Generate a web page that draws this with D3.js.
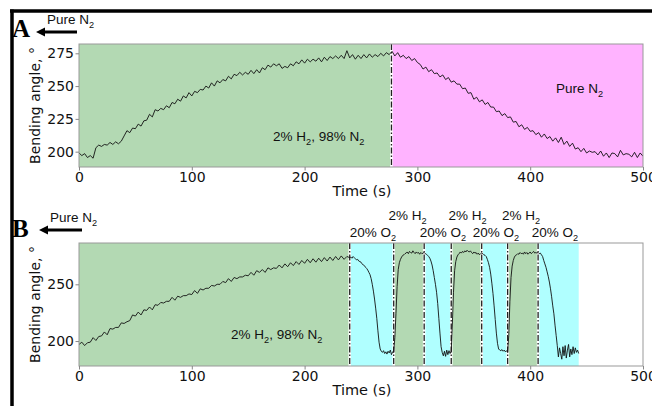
<!DOCTYPE html>
<html><head><meta charset="utf-8">
<script src="https://cdn.jsdelivr.net/npm/d3@7"></script>
<style>
html,body{margin:0;padding:0;background:#fff;}
svg{display:block;}
</style></head>
<body>
<svg id="chart" width="652" height="406"></svg>
<script>
// ---------------- DATA ----------------
const xTicks = [0, 100, 200, 300, 400, 500];
const aYTicks = [200, 225, 250, 275];
const bYTicks = [200, 250];

// Panel A: bending angle sampled every 2.5 s from 0 to 500 s
const aStep = 2.5;
const aAngle = [
  199, 197, 198.5, 195.5, 197, 195, 203, 205, 204, 205.5,
  205, 207, 205.5, 207.5, 206, 208, 212, 216, 214.5, 218,
  217.5, 221, 219.5, 223.5, 224, 228.5, 226.5, 232, 231, 233,
  232, 235, 233.5, 237.5, 236.5, 240, 238.5, 242.5, 241, 245,
  242.5, 246, 245, 247.5, 247, 250, 248.5, 252.5, 250, 254,
  252.5, 255, 254, 257.5, 255.5, 259, 258, 260.5, 258.5, 260.5,
  259, 262, 259.5, 262.5, 260, 264, 262.5, 266, 264.5, 267,
  265.5, 267, 263.5, 265, 264, 267, 265.5, 268.5, 267, 270,
  267.5, 270.5, 268.5, 270.5, 269, 271.5, 268.5, 272, 269.5, 272.5,
  271, 273, 271, 273.5, 271, 277, 271.5, 274, 270.5, 273.5,
  271, 274, 271.5, 274.5, 272, 274, 272.5, 275, 273, 275.5,
  274, 276.5, 273, 275.5, 272, 273.5, 271, 272.5, 269.5, 271,
  268, 266.5, 263, 264.5, 261, 262.5, 259.5, 260, 257, 258.5,
  255, 256.5, 253, 254, 251.5, 251.5, 248, 248.5, 244.5, 245,
  240, 241.5, 238, 239.5, 236, 237.5, 234, 234, 230.5, 231,
  227.5, 229, 226, 226.5, 222.5, 223, 219, 220.5, 217, 218.5,
  215.5, 216, 213, 214.5, 211, 213.5, 210, 211.5, 208, 210.5,
  207, 211, 205.5, 208, 204, 206.5, 202, 203, 200, 202.5,
  199, 200.5, 199.5, 200, 197.5, 200.5, 196.5, 199, 195.5, 199,
  198.5, 196, 201, 197.5, 198.5, 198, 196, 199.5, 195.5, 199,
  196.5
];

// Panel B: slow rise sampled every 2.5 s (0-237.5 s)
const bRiseStep = 2.5;
const bRiseAngle = [
  197, 199, 196, 198.5, 199, 203, 200.5, 204, 204.5, 208,
  205.5, 211, 210.5, 212, 212, 216, 215.5, 217, 218, 223,
  222, 225.5, 223, 227.5, 227, 230, 227.5, 232, 231.5, 234,
  233.5, 235, 235, 238.5, 236, 239.5, 238.5, 240, 240, 241.5,
  241, 244.5, 242, 246, 245, 246.5, 246.5, 249, 248.5, 250,
  250, 252.5, 251.5, 255, 252.5, 256, 255, 256.5, 256.5, 258,
  257.5, 260.5, 258, 262, 260.5, 263, 260.5, 264.5, 263, 264.5,
  264, 267, 264.5, 268, 265.5, 269, 266.5, 270, 267.5, 271,
  268.5, 272, 269, 272.5, 269.5, 273, 270, 273.5, 270.5, 274,
  271, 274.5, 271.5, 275, 272, 274.5
];
// Panel B: switching cycles sampled every 1 s (240-443 s)
const bCycleStart = 240;
const bCycleStep = 1;
const bCycleAngle = [
  273.5, 274, 273, 274.5, 273.5, 272.5, 271.5, 272, 270.5, 270,
  269.5, 268, 267, 266.5, 265, 264, 262.5, 260.5, 258.5, 255,
  250, 244, 237, 229, 220, 209, 199, 193, 191, 190,
  191.5, 189, 190.5, 188.5, 191, 189.5, 192, 188, 190.5, 190,
  203, 224, 248, 263, 269, 272, 274, 275.5, 276, 277,
  277.5, 278.5, 277, 279, 278, 277.5, 279.5, 278, 277, 278.5,
  277.5, 278, 276.5, 278, 277, 277.5, 278, 277, 276.5, 275.5,
  274.5, 273, 270.5, 267, 262, 256, 250, 243, 233, 220,
  207, 195, 190, 187, 191, 186.5, 192, 188, 191.5, 189,
  191, 215, 243, 262, 270, 274, 276, 277, 278.5, 277.5,
  279, 278, 279.5, 278.5, 280, 279, 278.5, 279.5, 278, 277,
  278.5, 277.5, 278, 276.5, 277.5, 276, 277, 277.5, 277, 276,
  275.5, 274.5, 272, 269, 265, 259, 251, 242, 231, 219,
  207, 198, 193, 192, 191.5, 192.5, 191, 192, 190.5, 191.5,
  190, 205, 235, 256, 266, 271, 274, 275.5, 276, 277,
  276.5, 278, 277, 277.5, 276.5, 278.5, 277, 278, 276.5, 277.5,
  278.5, 277, 278, 279, 277.5, 278, 277.5, 278, 277, 277.5,
  276, 274.5, 271, 268, 265, 261, 257, 252, 246, 239,
  231, 224, 214, 205, 196, 186, 194, 189, 184, 195,
  187, 196, 185, 192, 197, 186, 193, 188, 195, 189,
  194, 190, 192, 189
];

// Gas regions (time boundaries in s)
const aBoundaries = [0, 277, 500];
const aGases = ["h2", "n2"];
const bBoundaries = [0, 240, 279, 306, 330, 357, 380, 407, 443];
const bGases = ["h2", "o2", "h2", "o2", "h2", "o2", "h2", "o2"];
// Time at which the top labels of panel B are centred
const bO2LabelTimes = [260.6, 322.7, 369.7, 422];
const bH2LabelTimes = [291.2, 344.4, 391.8];

// ---------------- STYLE / LAYOUT ----------------
const gasColor = { h2: "#b3d9b3", n2: "#ffb3ff", o2: "#b0ffff" };
const tickFont = "'DejaVu Sans', sans-serif";
const annFont = "'Liberation Sans', Arial, sans-serif";

const svg = d3.select("#chart");

// figure frame lines
svg.append("line").attr("x1", 10).attr("x2", 652).attr("y1", 11).attr("y2", 11)
  .attr("stroke", "#000").attr("stroke-width", 3.5);
svg.append("line").attr("x1", 12).attr("x2", 12).attr("y1", 9.5).attr("y2", 406)
  .attr("stroke", "#000").attr("stroke-width", 3.5);

function subText(sel, x, y, parts, anchor, size, font) {
  const t = sel.append("text").attr("x", x).attr("y", y)
    .attr("text-anchor", anchor || "start")
    .attr("font-family", font || annFont).attr("font-size", size || 13.5)
    .attr("fill", "#111");
  let down = false;
  parts.forEach(p => {
    const sub = p[1];
    const ts = t.append("tspan").text(p[0]);
    if (sub && !down) { ts.attr("dy", size * 0.28).attr("font-size", size * 0.68); down = true; }
    else if (!sub && down) { ts.attr("dy", -size * 0.28); down = false; }
    else if (sub) ts.attr("font-size", size * 0.68);
  });
  return t;
}

function panel(cfg) {
  const x = d3.scaleLinear().domain([0, 500]).range([79, 643]);
  const y = d3.scaleLinear().domain(cfg.yDomain).range([cfg.bottom, cfg.top]);
  const g = svg.append("g");
  const clipId = "clip" + cfg.name;
  svg.append("clipPath").attr("id", clipId).append("rect")
    .attr("x", 79).attr("y", cfg.top).attr("width", 564).attr("height", cfg.bottom - cfg.top);

  // bands
  const bands = cfg.gases.map((gas, i) => ({ x0: cfg.bounds[i], x1: cfg.bounds[i + 1], gas }));
  g.selectAll("rect.band").data(bands).join("rect")
    .attr("x", d => x(d.x0)).attr("width", d => x(d.x1) - x(d.x0))
    .attr("y", cfg.top).attr("height", cfg.bottom - cfg.top)
    .attr("fill", d => gasColor[d.gas]);

  // boundary lines
  const inner = cfg.bounds.slice(1, cfg.bounds.length - 1);
  g.selectAll("line.wb").data(inner).join("line")
    .attr("x1", d => x(d)).attr("x2", d => x(d)).attr("y1", cfg.top).attr("y2", cfg.bottom)
    .attr("stroke", "#fff").attr("stroke-width", 2.6);
  g.selectAll("line.db").data(inner).join("line")
    .attr("x1", d => x(d)).attr("x2", d => x(d)).attr("y1", cfg.top).attr("y2", cfg.bottom)
    .attr("stroke", "#222").attr("stroke-width", 1.3).attr("stroke-dasharray", "6,2,1.5,2");

  // curve
  const line = d3.line().x(d => x(d[0])).y(d => y(d[1]));
  g.append("path").datum(cfg.points).attr("d", line)
    .attr("fill", "none").attr("stroke", "#111").attr("stroke-width", 0.9)
    .attr("stroke-linejoin", "round").attr("clip-path", `url(#${clipId})`);

  // spines
  g.append("rect").attr("x", 79).attr("y", cfg.top).attr("width", 564).attr("height", cfg.bottom - cfg.top)
    .attr("fill", "none").attr("stroke", "#999").attr("stroke-width", 1);

  // axes
  const xa = g.append("g").attr("transform", `translate(0,${cfg.bottom})`)
    .call(d3.axisBottom(x).tickValues(xTicks).tickSize(3.5).tickPadding(1.5).tickFormat(d3.format("d")));
  const ya = g.append("g").attr("transform", "translate(79,0)")
    .call(d3.axisLeft(y).tickValues(cfg.yTicks).tickSize(3.5).tickPadding(1.5).tickFormat(d3.format("d")));
  [xa, ya].forEach(a => {
    a.select(".domain").remove();
    a.selectAll(".tick line").attr("stroke", "#888");
    a.selectAll(".tick text").attr("font-family", tickFont).attr("font-size", 14).attr("fill", "#111");
  });

  // axis titles
  g.append("text").attr("x", 362).attr("y", cfg.bottom + 29).attr("text-anchor", "middle")
    .attr("font-family", tickFont).attr("font-size", 14.5).attr("fill", "#111").text("Time (s)");
  g.append("text").attr("transform", `translate(40,${(cfg.top + cfg.bottom) / 2}) rotate(-90)`)
    .attr("text-anchor", "middle").attr("font-family", tickFont).attr("font-size", 14)
    .attr("fill", "#111").text("Bending angle, °");

  // panel letter
  svg.append("text").attr("x", 12).attr("y", cfg.letterY).attr("font-family", "'Liberation Serif', 'DejaVu Serif', serif")
    .attr("font-weight", "bold").attr("font-size", 25).attr("fill", "#000").text(cfg.name);

  // arrow with "Pure N2"
  const ay = cfg.arrowY;
  svg.append("line").attr("x1", cfg.arrowX1).attr("x2", cfg.arrowX0 + 8).attr("y1", ay).attr("y2", ay)
    .attr("stroke", "#000").attr("stroke-width", 3);
  svg.append("path").attr("d", `M${cfg.arrowX0},${ay} L${cfg.arrowX0 + 9},${ay - 4.5} L${cfg.arrowX0 + 9},${ay + 4.5} Z`)
    .attr("fill", "#000");
  subText(svg, cfg.arrowX0 + 11, ay - 8, [["Pure N", false], ["2", true]], "start", 13.5);

  return { x, y, g };
}

// Panel A
const aPoints = aAngle.map((v, i) => [i * aStep, v]);
const A = panel({ name: "A", top: 44, bottom: 167, yDomain: [188.3, 282.1], yTicks: aYTicks,
  bounds: aBoundaries, gases: aGases, points: aPoints, letterY: 37, arrowY: 32, arrowX0: 36, arrowX1: 77 });
subText(A.g, 273, 141, [["2% H", false], ["2", true], [", 98% N", false], ["2", true]], "start", 13.5);
subText(A.g, 556, 93, [["Pure N", false], ["2", true]], "start", 13.5);

// Panel B
const bPoints = bRiseAngle.map((v, i) => [i * bRiseStep, v])
  .concat(bCycleAngle.map((v, i) => [bCycleStart + i * bCycleStep, v]));
const B = panel({ name: "B", top: 243, bottom: 366, yDomain: [178, 286.4], yTicks: bYTicks,
  bounds: bBoundaries, gases: bGases, points: bPoints, letterY: 237, arrowY: 230, arrowX0: 39, arrowX1: 82 });
subText(B.g, 231, 339, [["2% H", false], ["2", true], [", 98% N", false], ["2", true]], "start", 13.5);
bO2LabelTimes.forEach(t => subText(B.g, B.x(t), 237, [["20% O", false], ["2", true]], "middle", 13.5));
bH2LabelTimes.forEach(t => subText(B.g, B.x(t), 220, [["2% H", false], ["2", true]], "middle", 13.5));
</script>
</body></html>
